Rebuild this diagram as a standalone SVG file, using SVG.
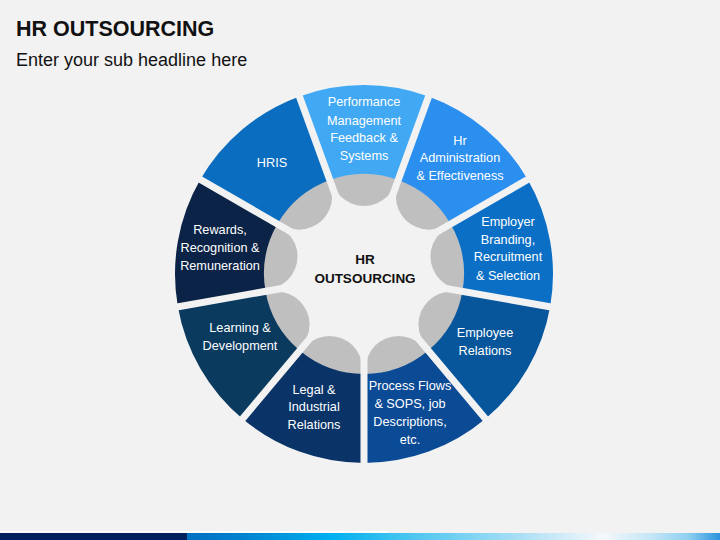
<svg xmlns="http://www.w3.org/2000/svg" width="720" height="540" viewBox="0 0 720 540">
<defs>
<style>
.bg{fill:#f2f2f2}
.lobe{fill:#bfbfbf}
.sep{stroke:#f2f2f2;stroke-width:7;stroke-linecap:butt}
.lbl{font-family:"Liberation Sans",Arial,sans-serif;font-size:12.7px;fill:#ffffff;text-anchor:middle}
.ctr{font-family:"Liberation Sans",Arial,sans-serif;font-size:13.5px;font-weight:bold;fill:#111111;text-anchor:middle}
.title{font-family:"Liberation Sans",Arial,sans-serif;font-size:21.5px;font-weight:bold;fill:#111111}
.sub{font-family:"Liberation Sans",Arial,sans-serif;font-size:18px;fill:#111111}
</style>
<linearGradient id="band" gradientUnits="userSpaceOnUse" x1="187" y1="0" x2="720" y2="0">
<stop offset="0" stop-color="#0070c0"/>
<stop offset="0.1" stop-color="#0082cf"/>
<stop offset="0.27" stop-color="#00b0f0"/>
<stop offset="0.44" stop-color="#55c8f0"/>
<stop offset="0.62" stop-color="#a8def5"/>
<stop offset="0.78" stop-color="#f5f8fb"/>
<stop offset="0.87" stop-color="#c5e6f6"/>
<stop offset="0.94" stop-color="#8fd0f2"/>
<stop offset="1" stop-color="#2c94dc"/>
</linearGradient>
</defs>
<rect class="bg" x="0" y="0" width="720" height="540"/>

<text class="title" x="16" y="36">HR OUTSOURCING</text>
<text class="sub" x="16" y="66">Enter your sub headline here</text>

<g id="hub">
<circle class="lobe" cx="364" cy="274" r="101"/>
<circle class="bg" cx="364" cy="274" r="95"/>
<circle class="lobe" cx="364" cy="173" r="33"/>
<circle class="lobe" cx="428.92" cy="196.63" r="33"/>
<circle class="lobe" cx="463.47" cy="256.46" r="33"/>
<circle class="lobe" cx="451.47" cy="324.5" r="33"/>
<circle class="lobe" cx="398.54" cy="368.91" r="33"/>
<circle class="lobe" cx="329.46" cy="368.91" r="33"/>
<circle class="lobe" cx="276.53" cy="324.5" r="33"/>
<circle class="lobe" cx="264.53" cy="256.46" r="33"/>
<circle class="lobe" cx="299.08" cy="196.63" r="33"/>
</g>

<g id="performance">
<path fill="#41a8f3" d="M299.36,96.40 A189,189 0 0 1 428.64,96.40 L398.20,180.03 A100,100 0 0 0 329.80,180.03 Z"/>
<text class="lbl" x="364" y="106">Performance</text>
<text class="lbl" x="364" y="124.5">Management</text>
<text class="lbl" x="364" y="142">Feedback &amp;</text>
<text class="lbl" x="364" y="160">Systems</text>
</g>
<g id="hr-administration">
<path fill="#2b8ff0" d="M428.64,96.40 A189,189 0 0 1 527.68,179.5 L450.60,224.0 A100,100 0 0 0 398.20,180.03 Z"/>
<text class="lbl" x="460" y="144.5">Hr</text>
<text class="lbl" x="460" y="162">Administration</text>
<text class="lbl" x="460" y="180">&amp; Effectiveness</text>
</g>
<g id="employer-branding">
<path fill="#0b6fc6" d="M527.68,179.5 A189,189 0 0 1 550.13,306.82 L462.48,291.37 A100,100 0 0 0 450.60,224.0 Z"/>
<text class="lbl" x="508" y="225.5">Employer</text>
<text class="lbl" x="508" y="243.5">Branding,</text>
<text class="lbl" x="508" y="261">Recruitment</text>
<text class="lbl" x="508" y="279.5">&amp; Selection</text>
</g>
<g id="employee-relations">
<path fill="#07569b" d="M550.13,306.82 A189,189 0 0 1 485.49,418.78 L428.28,350.60 A100,100 0 0 0 462.48,291.37 Z"/>
<text class="lbl" x="485" y="337">Employee</text>
<text class="lbl" x="485" y="354.5">Relations</text>
</g>
<g id="process-flows">
<path fill="#0b4a95" d="M485.49,418.78 A189,189 0 0 1 364,463 L364,374 A100,100 0 0 0 428.28,350.60 Z"/>
<text class="lbl" x="410" y="389.5">Process Flows</text>
<text class="lbl" x="410" y="408">&amp; SOPS, job</text>
<text class="lbl" x="410" y="425.5">Descriptions,</text>
<text class="lbl" x="410" y="443.5">etc.</text>
</g>
<g id="legal-relations">
<path fill="#0a3468" d="M364,463 A189,189 0 0 1 242.51,418.78 L299.72,350.60 A100,100 0 0 0 364,374 Z"/>
<text class="lbl" x="314" y="393.5">Legal &amp;</text>
<text class="lbl" x="314" y="411">Industrial</text>
<text class="lbl" x="314" y="429">Relations</text>
</g>
<g id="learning-development">
<path fill="#0b3a5f" d="M242.51,418.78 A189,189 0 0 1 177.87,306.82 L265.52,291.37 A100,100 0 0 0 299.72,350.60 Z"/>
<text class="lbl" x="240" y="332">Learning &amp;</text>
<text class="lbl" x="240" y="350">Development</text>
</g>
<g id="rewards">
<path fill="#0b2346" d="M177.87,306.82 A189,189 0 0 1 200.32,179.5 L277.40,224.0 A100,100 0 0 0 265.52,291.37 Z"/>
<text class="lbl" x="220" y="234">Rewards,</text>
<text class="lbl" x="220" y="252">Recognition &amp;</text>
<text class="lbl" x="220" y="270">Remuneration</text>
</g>
<g id="hris">
<path fill="#0a6dbf" d="M200.32,179.5 A189,189 0 0 1 299.36,96.40 L329.80,180.03 A100,100 0 0 0 277.40,224.0 Z"/>
<text class="lbl" x="272" y="167">HRIS</text>
</g>

<g id="separators">
<line class="sep" x1="346.90" y1="227.02" x2="295.60" y2="86.06"/>
<line class="sep" x1="381.10" y1="227.02" x2="432.40" y2="86.06"/>
<line class="sep" x1="407.30" y1="249.00" x2="537.21" y2="174.00"/>
<line class="sep" x1="413.24" y1="282.68" x2="560.96" y2="308.73"/>
<line class="sep" x1="396.14" y1="312.30" x2="492.56" y2="427.21"/>
<line class="sep" x1="364" y1="324" x2="364" y2="474"/>
<line class="sep" x1="331.86" y1="312.30" x2="235.44" y2="427.21"/>
<line class="sep" x1="314.76" y1="282.68" x2="167.04" y2="308.73"/>
<line class="sep" x1="320.70" y1="249.00" x2="190.79" y2="174.00"/>
</g>

<g id="center">
<text class="ctr" x="365" y="264">HR</text>
<text class="ctr" x="365" y="282.5">OUTSOURCING</text>
</g>

<rect x="0" y="531" width="388" height="1.5" fill="#ffffff"/>
<rect x="0" y="533" width="187" height="7" fill="#002060"/>
<rect x="187" y="533" width="533" height="7" fill="url(#band)"/>
</svg>
